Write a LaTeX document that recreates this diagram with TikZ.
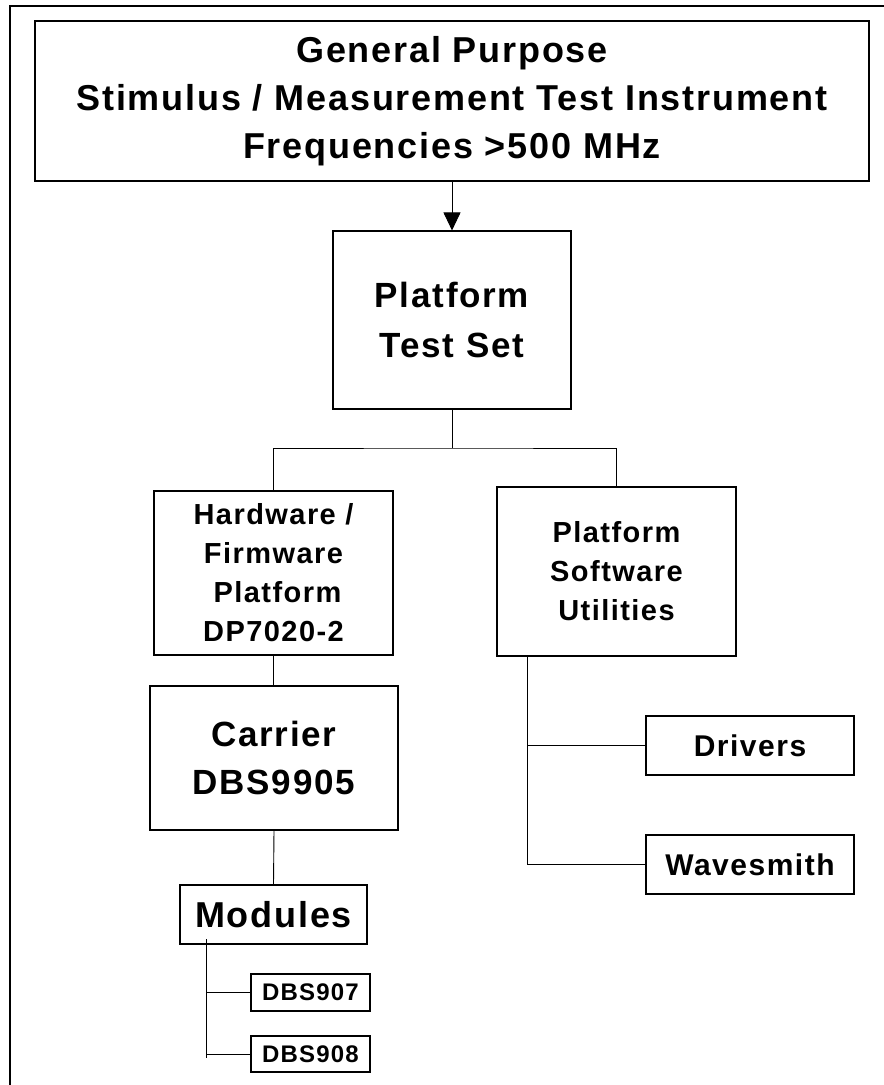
\documentclass[tikz,border=0pt]{standalone}
\usepackage{fontspec}
\setmainfont{Liberation Sans}[LetterSpace=5]
\usetikzlibrary{arrows.meta}
\begin{document}
\begin{tikzpicture}[x=1pt,y=-1pt,
  box/.style={draw,line width=1.1pt,inner sep=0pt,align=center,rectangle},
  conn/.style={line width=0.9pt},
  fTop/.style={font=\bfseries\fontsize{36}{48}\selectfont},
  fPts/.style={font=\bfseries\fontsize{35}{50}\selectfont},
  fMid/.style={font=\bfseries\fontsize{29}{39}\selectfont},
  fCar/.style={font=\bfseries\fontsize{35}{48}\selectfont},
  fMod/.style={font=\bfseries\fontsize{36}{40}\selectfont},
  fDrv/.style={font=\bfseries\fontsize{30}{32}\selectfont},
  fDbs/.style={font=\bfseries\fontsize{24}{26}\selectfont}]
\useasboundingbox (0,0) rectangle (884,1085);
\fill[white] (0,0) rectangle (884,1085);
\draw[line width=1.6pt] (10,1085) -- (10,6) -- (884,6);

\node[box,fTop,minimum width=834pt,minimum height=160pt] (top) at (452,101)
  {General Purpose\\Stimulus / Measurement Test Instrument\\Frequencies >500 MHz};
\node[box,fPts,minimum width=238pt,minimum height=178pt] (pts) at (452,320)
  {Platform\\Test Set};
\node[box,fMid,minimum width=239pt,minimum height=164pt] (hw) at (273.5,573)
  {Hardware /\\Firmware\\\hspace*{8pt}Platform\\DP7020-2};
\node[box,fMid,minimum width=239pt,minimum height=169pt] (sw) at (616.5,571.5)
  {Platform\\Software\\Utilities};
\node[box,fCar,minimum width=248pt,minimum height=144pt] (car) at (274,758)
  {Carrier\\DBS9905};
\node[box,fMod,minimum width=187pt,minimum height=59pt] (mod) at (273.5,914.5)
  {Modules};
\node[box,fDbs,minimum width=119pt,minimum height=37pt] (d907) at (310.5,992.5)
  {DBS907};
\node[box,fDbs,minimum width=119pt,minimum height=36pt] (d908) at (310.5,1054)
  {DBS908};
\node[box,fDrv,minimum width=208pt,minimum height=59pt] (drv) at (750,745.5)
  {Drivers};
\node[box,fDrv,minimum width=208pt,minimum height=59pt] (wav) at (750,864.5)
  {Wavesmith};

\coordinate (j) at (452,448);
\coordinate (mx) at (206,939);
\coordinate (mend) at (206,1058);
\coordinate (sx) at (527,700);

\draw[conn,-{Triangle[length=18pt,width=17pt]}] (top.south) -- (pts.north);
\draw[conn] (pts.south) -- (j);
\draw[conn] (hw.north) |- (j) -| (sw.north);
\draw[conn] (hw.south) -- (car.north -| hw.south);
\draw[conn] (car.south) -- (mod.north);
\draw[conn] (mx) -- (mend);
\draw[conn] (mend |- d907.west) -- (d907.west);
\draw[conn] (mend |- d908.west) -- (d908.west);
\draw[conn] (sw.south -| sx) |- (wav.west);
\draw[conn] (sx |- drv.west) -- (drv.west);
\end{tikzpicture}
\end{document}
